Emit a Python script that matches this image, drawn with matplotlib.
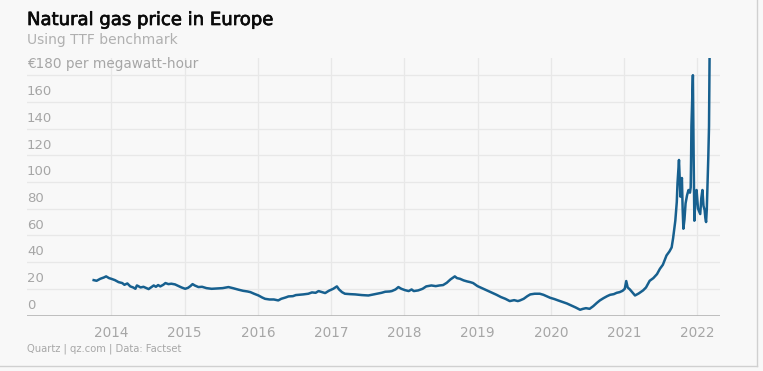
import matplotlib
matplotlib.use("Agg")
import matplotlib.pyplot as plt
import matplotlib.patheffects as pe
from matplotlib.lines import Line2D

plt.rcParams['font.family'] = ['DejaVu Sans']

title = "Natural gas price in Europe"
subtitle = "Using TTF benchmark"
unit_label = "€180 per megawatt-hour"
source = "Quartz | qz.com | Data: Factset"

year_ticks = [2014, 2015, 2016, 2017, 2018, 2019, 2020, 2021, 2022]
y_ticks = [0, 20, 40, 60, 80, 100, 120, 140, 160]

dates = [
    2013.76, 2013.80, 2013.85, 2013.90, 2013.93, 2013.97, 2014.00, 2014.05, 2014.10, 2014.15,
    2014.18, 2014.22, 2014.26, 2014.30, 2014.33, 2014.35, 2014.37, 2014.40, 2014.44, 2014.48,
    2014.51, 2014.54, 2014.58, 2014.61, 2014.64, 2014.67, 2014.71, 2014.74, 2014.78, 2014.82,
    2014.87, 2014.92, 2014.96, 2015.01, 2015.05, 2015.08, 2015.11, 2015.14, 2015.19, 2015.24,
    2015.30, 2015.37, 2015.45, 2015.52, 2015.60, 2015.66, 2015.74, 2015.80, 2015.86, 2015.90,
    2015.95, 2016.01, 2016.06, 2016.10, 2016.16, 2016.22, 2016.28, 2016.32, 2016.38, 2016.42,
    2016.48, 2016.52, 2016.56, 2016.62, 2016.69, 2016.74, 2016.79, 2016.83, 2016.88, 2016.92,
    2016.97, 2017.03, 2017.08, 2017.11, 2017.15, 2017.19, 2017.26, 2017.33, 2017.42, 2017.51,
    2017.58, 2017.64, 2017.69, 2017.74, 2017.80, 2017.83, 2017.88, 2017.92, 2017.96, 2018.01,
    2018.06, 2018.10, 2018.13, 2018.19, 2018.25, 2018.30, 2018.37, 2018.43, 2018.48, 2018.53,
    2018.58, 2018.63, 2018.69, 2018.72, 2018.76, 2018.81, 2018.86, 2018.90, 2018.94, 2019.00,
    2019.04, 2019.08, 2019.14, 2019.20, 2019.26, 2019.32, 2019.38, 2019.44, 2019.50, 2019.55,
    2019.58, 2019.63, 2019.68, 2019.72, 2019.78, 2019.85, 2019.90, 2019.95, 2019.99, 2020.05,
    2020.10, 2020.17, 2020.22, 2020.28, 2020.34, 2020.40, 2020.44, 2020.48, 2020.53, 2020.58,
    2020.63, 2020.67, 2020.72, 2020.77, 2020.81, 2020.86, 2020.90, 2020.94, 2020.98, 2021.01,
    2021.03, 2021.05, 2021.08, 2021.12, 2021.15, 2021.20, 2021.26, 2021.30, 2021.35, 2021.40,
    2021.45, 2021.49, 2021.53, 2021.58, 2021.62, 2021.65, 2021.67, 2021.70, 2021.72, 2021.73,
    2021.75, 2021.765, 2021.77, 2021.78, 2021.79, 2021.80, 2021.81, 2021.825, 2021.84, 2021.86,
    2021.88, 2021.90, 2021.91, 2021.915, 2021.92, 2021.93, 2021.94, 2021.95, 2021.96, 2021.975,
    2021.99, 2022.01, 2022.04, 2022.055, 2022.07, 2022.085, 2022.10, 2022.11, 2022.12, 2022.13,
    2022.14, 2022.15, 2022.16, 2022.17,
]

prices = [
    26.5, 26.0, 27.5, 28.5, 29.3, 28.0, 27.5, 26.5, 25.0, 24.3,
    23.0, 24.0, 21.8, 21.0, 20.0, 22.5, 22.0, 21.0, 21.5, 20.5,
    19.8, 21.0, 22.5, 21.5, 22.8, 21.8, 23.0, 24.3, 23.5, 23.8,
    23.3, 22.0, 21.0, 20.0, 20.8, 22.0, 23.5, 22.5, 21.3, 21.5,
    20.5, 20.0, 20.3, 20.5, 21.3, 20.5, 19.3, 18.5, 18.0, 17.5,
    16.3, 15.0, 13.5, 12.5, 12.0, 12.0, 11.3, 12.5, 13.5, 14.3,
    14.5, 15.3, 15.5, 15.8, 16.3, 17.3, 17.0, 18.3, 17.5, 16.8,
    18.5, 20.0, 21.8, 19.5, 17.5, 16.3, 16.0, 15.8, 15.3, 15.0,
    15.8, 16.5, 17.0, 17.8, 18.0, 18.3, 19.5, 21.3, 20.0, 19.0,
    18.3, 19.5, 18.3, 18.8, 20.0, 21.8, 22.5, 22.0, 22.5, 22.8,
    24.5, 27.0, 29.3, 28.0, 27.5, 26.3, 25.5, 25.0, 24.3, 22.0,
    21.0, 20.0, 18.5, 17.0, 15.5, 13.8, 12.5, 10.8, 11.5, 10.8,
    11.3, 12.5, 14.5, 15.8, 16.3, 16.3, 15.5, 14.3, 13.3, 12.3,
    11.3, 10.0, 9.0, 7.5, 6.0, 4.3, 5.0, 5.5, 5.0, 7.0,
    9.5, 11.3, 13.0, 14.5, 15.5, 16.0, 17.0, 17.5, 18.5, 20.0,
    25.8, 21.0, 19.5, 17.0, 15.0, 16.5, 18.8, 21.0, 26.0, 28.0,
    31.0, 35.0, 38.0, 45.0, 48.0, 51.0, 58.0, 71.0, 85.0, 99.0,
    116.5, 95.0, 89.0, 98.0, 103.0, 80.0, 65.0, 72.0, 84.0, 90.0,
    94.0, 92.0, 96.0, 115.0, 141.6, 160.0, 180.0, 120.0, 71.0, 88.0,
    94.0, 80.0, 76.0, 88.0, 94.0, 82.0, 79.0, 73.0, 70.0, 80.0,
    99.0, 118.0, 141.6, 210.0,
]

W, H = 763, 371
fig = plt.figure(figsize=(W / 100, H / 100), dpi=100)
bg = "#f8f8f8"
fig.patch.set_facecolor(bg)

def fx(px):
    return px / W

def fy(py):
    return 1 - py / H

ax_left, ax_right, ax_top, ax_bottom = 27, 720, 58, 315.5
ax = fig.add_axes([fx(ax_left), fy(ax_bottom), fx(ax_right - ax_left), (ax_bottom - ax_top) / H])
ax.set_facecolor(bg)

ymax = (ax_bottom - ax_top) / 1.335
ax.set_ylim(0, ymax)
ax.set_xlim(2012.85, 2022.31)

for s in ax.spines.values():
    s.set_visible(False)
ax.axhline(0, color="#b4b4b4", lw=1.2, zorder=3)

grid_c = "#e8e8e8"
for v in y_ticks[1:] + [180]:
    ax.axhline(v, color=grid_c, lw=0.9, zorder=0)
for yr in year_ticks:
    ax.axvline(yr, color=grid_c, lw=0.9, zorder=0)

ax.plot(dates, prices, color="#17608f", lw=1.8, solid_joinstyle="round", zorder=4)

ax.set_xticks([])
ax.set_yticks([])

label_c = "#a6a6a6"
for v in y_ticks:
    ax.text(0.0, v + 2.8, str(v), transform=ax.get_yaxis_transform(), ha="left", va="bottom",
            fontsize=9.5, color=label_c)
ax.text(0.0, 180 + 2.8, unit_label, transform=ax.get_yaxis_transform(), ha="left", va="bottom",
        fontsize=9.8, color=label_c)

for yr in year_ticks:
    ax.text(yr, -8, str(yr), ha="center", va="top", fontsize=9.8, color=label_c,
            transform=ax.transData, clip_on=False)

fig.text(fx(27), fy(20), title, ha="left", va="center", fontsize=13, color="#0a0a0a",
         path_effects=[pe.withStroke(linewidth=0.5, foreground="#0a0a0a")])
fig.text(fx(27), fy(40), subtitle, ha="left", va="center", fontsize=10, color="#b0b0b0")
fig.text(fx(27), fy(349), source, ha="left", va="center", fontsize=7.2, color="#a8a8a8")

fig.add_artist(Line2D([fx(757), fx(757)], [fy(0), fy(366)], color="#d0d0d0", lw=1,
                      transform=fig.transFigure))
fig.add_artist(Line2D([fx(0), fx(757)], [fy(366), fy(366)], color="#d0d0d0", lw=1,
                      transform=fig.transFigure))

fig.savefig("out.png", dpi=100, facecolor=bg)
